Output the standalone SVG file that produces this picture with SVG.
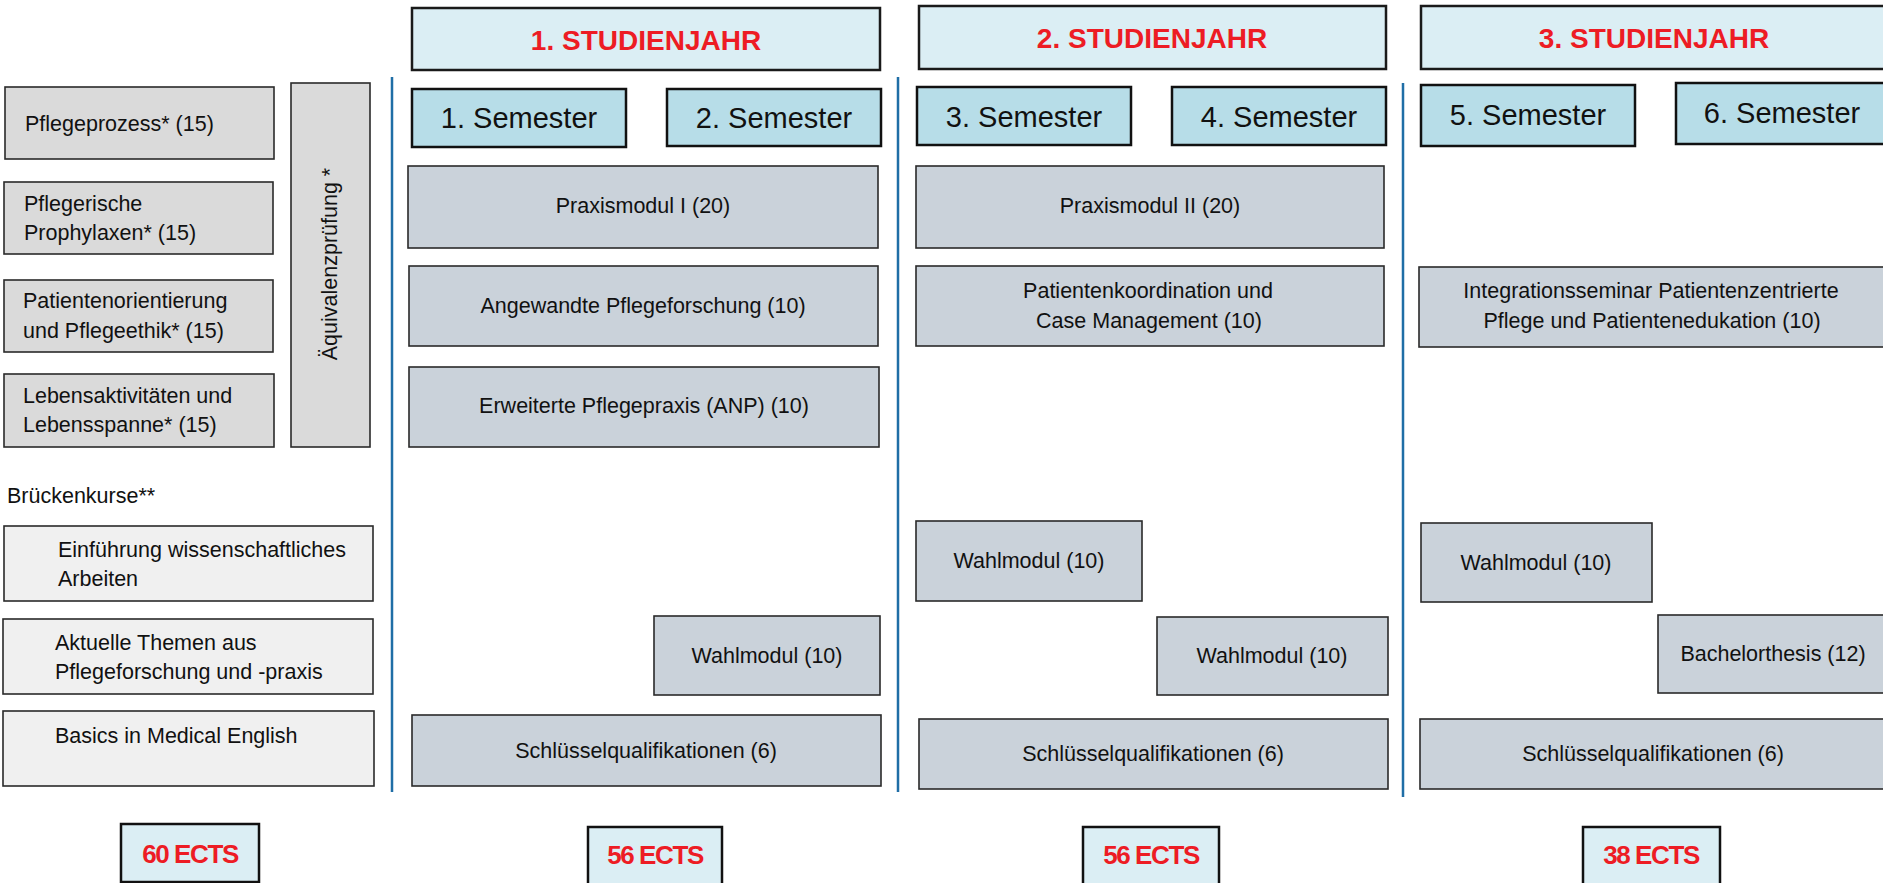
<svg xmlns="http://www.w3.org/2000/svg" width="1883" height="883" viewBox="0 0 1883 883">
<style>
text{font-family:"Liberation Sans",Arial,sans-serif;fill:#111}
.t{font-size:21.5px}
.m{text-anchor:middle}
.jahr{fill:#dbeef4;stroke:#1a1a1a;stroke-width:2.5}
.jt{font-size:28px;font-weight:bold;fill:#ed1c24;text-anchor:middle}
.sem{fill:#b7dde8;stroke:#111;stroke-width:2.5}
.st{font-size:29px;text-anchor:middle}
.mod{fill:#cad2da;stroke:#2a2a2a;stroke-width:1.6}
.grey{fill:#dadada;stroke:#2a2a2a;stroke-width:1.6}
.light{fill:#f0f0f0;stroke:#2a2a2a;stroke-width:1.6}
.ects{fill:#dbeef4;stroke:#111;stroke-width:2.5}
.et{font-size:26px;font-weight:bold;fill:#ed1c24;text-anchor:middle;letter-spacing:-1.4px}
.div{stroke:#1f6ea6;stroke-width:2.5}
</style>

<g id="connectors">
<line class="div" x1="392" y1="77" x2="392" y2="792"/>
<line class="div" x1="898" y1="77" x2="898" y2="792"/>
<line class="div" x1="1403" y1="83" x2="1403" y2="797"/>
</g>

<!-- Left column -->
<g id="pflegeprozess"><rect class="grey" x="5" y="87" width="269" height="72"/><text class="t" x="25" y="131">Pflegeprozess* (15)</text></g>
<g id="prophylaxen"><rect class="grey" x="4" y="182" width="269" height="72"/><text class="t" x="24" y="211">Pflegerische</text><text class="t" x="24" y="240">Prophylaxen* (15)</text></g>
<g id="patientenorientierung"><rect class="grey" x="4" y="280" width="269" height="72"/><text class="t" x="23" y="308">Patientenorientierung</text><text class="t" x="23" y="338">und Pflegeethik* (15)</text></g>
<g id="lebensaktivitaeten"><rect class="grey" x="4" y="374" width="270" height="73"/><text class="t" x="23" y="403">Lebensaktivitäten und</text><text class="t" x="23" y="432">Lebensspanne* (15)</text></g>
<g id="aequivalenz"><rect class="grey" x="291" y="83" width="79" height="364"/><text class="t m" transform="translate(337,264) rotate(-90)" x="0" y="0">Äquivalenzprüfung *</text></g>

<g id="brueckenkurse-label"><text class="t" x="7" y="503">Brückenkurse**</text></g>
<g id="einfuehrung"><rect class="light" x="4" y="526" width="369" height="75"/><text class="t" x="58" y="557">Einführung wissenschaftliches</text><text class="t" x="58" y="586">Arbeiten</text></g>
<g id="aktuelle"><rect class="light" x="3" y="619" width="370" height="75"/><text class="t" x="55" y="650">Aktuelle Themen aus</text><text class="t" x="55" y="679">Pflegeforschung und -praxis</text></g>
<g id="basics"><rect class="light" x="3" y="711" width="371" height="75"/><text class="t" x="55" y="743">Basics in Medical English</text></g>

<!-- Year headers -->
<g id="jahr1"><rect class="jahr" x="412" y="8" width="468" height="62"/><text class="jt" x="646" y="50">1. STUDIENJAHR</text></g>
<g id="jahr2"><rect class="jahr" x="919" y="6" width="467" height="63"/><text class="jt" x="1152" y="48">2. STUDIENJAHR</text></g>
<g id="jahr3"><rect class="jahr" x="1421" y="6" width="467" height="63"/><text class="jt" x="1654" y="48">3. STUDIENJAHR</text></g>

<!-- Semesters -->
<g id="sem1"><rect class="sem" x="412" y="89" width="214" height="58"/><text class="st" x="519" y="128">1. Semester</text></g>
<g id="sem2"><rect class="sem" x="667" y="89" width="214" height="57"/><text class="st" x="774" y="128">2. Semester</text></g>
<g id="sem3"><rect class="sem" x="917" y="87" width="214" height="58"/><text class="st" x="1024" y="127">3. Semester</text></g>
<g id="sem4"><rect class="sem" x="1172" y="87" width="214" height="58"/><text class="st" x="1279" y="127">4. Semester</text></g>
<g id="sem5"><rect class="sem" x="1421" y="85" width="214" height="61"/><text class="st" x="1528" y="125">5. Semester</text></g>
<g id="sem6"><rect class="sem" x="1676" y="83" width="212" height="61"/><text class="st" x="1782" y="123">6. Semester</text></g>

<!-- Year 1 modules -->
<g id="praxis1"><rect class="mod" x="408" y="166" width="470" height="82"/><text class="t m" x="643" y="213">Praxismodul I (20)</text></g>
<g id="angewandte"><rect class="mod" x="409" y="266" width="469" height="80"/><text class="t m" x="643" y="313">Angewandte Pflegeforschung (10)</text></g>
<g id="erweiterte"><rect class="mod" x="409" y="367" width="470" height="80"/><text class="t m" x="644" y="413">Erweiterte Pflegepraxis (ANP) (10)</text></g>
<g id="wahl1"><rect class="mod" x="654" y="616" width="226" height="79"/><text class="t m" x="767" y="663">Wahlmodul (10)</text></g>
<g id="schluessel1"><rect class="mod" x="412" y="715" width="469" height="71"/><text class="t m" x="646" y="758">Schlüsselqualifikationen (6)</text></g>

<!-- Year 2 modules -->
<g id="praxis2"><rect class="mod" x="916" y="166" width="468" height="82"/><text class="t m" x="1150" y="213">Praxismodul II (20)</text></g>
<g id="patientenkoordination"><rect class="mod" x="916" y="266" width="468" height="80"/><text class="t m" x="1148" y="298">Patientenkoordination und</text><text class="t m" x="1149" y="328">Case Management (10)</text></g>
<g id="wahl2a"><rect class="mod" x="916" y="521" width="226" height="80"/><text class="t m" x="1029" y="568">Wahlmodul (10)</text></g>
<g id="wahl2b"><rect class="mod" x="1157" y="617" width="231" height="78"/><text class="t m" x="1272" y="663">Wahlmodul (10)</text></g>
<g id="schluessel2"><rect class="mod" x="919" y="719" width="469" height="70"/><text class="t m" x="1153" y="761">Schlüsselqualifikationen (6)</text></g>

<!-- Year 3 modules -->
<g id="integrationsseminar"><rect class="mod" x="1419" y="267" width="470" height="80"/><text class="t m" x="1651" y="298">Integrationsseminar Patientenzentrierte</text><text class="t m" x="1652" y="328">Pflege und Patientenedukation (10)</text></g>
<g id="wahl3"><rect class="mod" x="1421" y="523" width="231" height="79"/><text class="t m" x="1536" y="570">Wahlmodul (10)</text></g>
<g id="bachelorthesis"><rect class="mod" x="1658" y="615" width="230" height="78"/><text class="t m" x="1773" y="661">Bachelorthesis (12)</text></g>
<g id="schluessel3"><rect class="mod" x="1420" y="719" width="468" height="70"/><text class="t m" x="1653" y="761">Schlüsselqualifikationen (6)</text></g>

<!-- ECTS -->
<g id="ects0"><rect class="ects" x="121" y="824" width="138" height="58"/><text class="et" x="190" y="863">60 ECTS</text></g>
<g id="ects1"><rect class="ects" x="588" y="827" width="134" height="60"/><text class="et" x="655" y="864">56 ECTS</text></g>
<g id="ects2"><rect class="ects" x="1083" y="827" width="136" height="60"/><text class="et" x="1151" y="864">56 ECTS</text></g>
<g id="ects3"><rect class="ects" x="1583" y="827" width="137" height="60"/><text class="et" x="1651" y="864">38 ECTS</text></g>
</svg>
